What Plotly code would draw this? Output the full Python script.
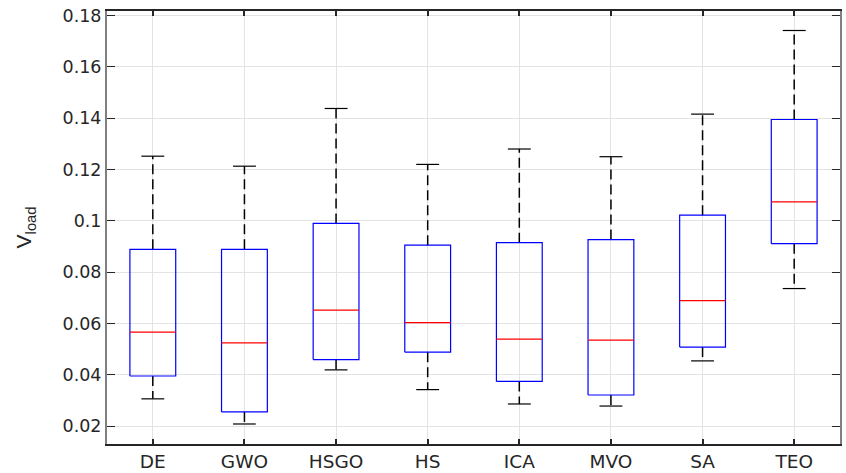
import plotly.graph_objects as go

# Per-algorithm box statistics for V_load
algorithms = ["DE", "GWO", "HSGO", "HS", "ICA", "MVO", "SA", "TEO"]
lower_whisker = [0.0306, 0.0208, 0.0419, 0.0342, 0.0286, 0.0278, 0.0454, 0.0736]
q1 = [0.0395, 0.0255, 0.0459, 0.0488, 0.0374, 0.0321, 0.0508, 0.0911]
median = [0.0566, 0.0524, 0.0652, 0.0603, 0.0539, 0.0535, 0.0689, 0.1074]
q3 = [0.0889, 0.0889, 0.0990, 0.0905, 0.0915, 0.0927, 0.1022, 0.1395]
upper_whisker = [0.1252, 0.1213, 0.1438, 0.1220, 0.1280, 0.1250, 0.1416, 0.1742]

y_ticks = [0.02, 0.04, 0.06, 0.08, 0.10, 0.12, 0.14, 0.16, 0.18]
y_tick_text = ["0.02", "0.04", "0.06", "0.08", "0.1", "0.12", "0.14", "0.16", "0.18"]

BOX_HALF = 0.25
CAP_HALF = 0.125
TEXT = "#262626"
FONT = "DejaVu Sans, Arial, sans-serif"

positions = list(range(1, len(algorithms) + 1))

box_x, box_y = [], []
med_x, med_y = [], []
wh_x, wh_y = [], []
cap_x, cap_y = [], []
for p, lo, a, m, b, hi in zip(positions, lower_whisker, q1, median, q3, upper_whisker):
    box_x += [p - BOX_HALF, p + BOX_HALF, p + BOX_HALF, p - BOX_HALF, p - BOX_HALF, None]
    box_y += [a, a, b, b, a, None]
    med_x += [p - BOX_HALF, p + BOX_HALF, None]
    med_y += [m, m, None]
    wh_x += [p, p, None, p, p, None]
    wh_y += [b, hi, None, a, lo, None]
    cap_x += [p - CAP_HALF, p + CAP_HALF, None, p - CAP_HALF, p + CAP_HALF, None]
    cap_y += [hi, hi, None, lo, lo, None]

fig = go.Figure()
fig.add_trace(go.Scatter(x=wh_x, y=wh_y, mode="lines",
                         line=dict(color="black", width=1.5, dash="10px,5px"),
                         hoverinfo="skip", showlegend=False))
fig.add_trace(go.Scatter(x=cap_x, y=cap_y, mode="lines",
                         line=dict(color="black", width=1.2),
                         hoverinfo="skip", showlegend=False))
fig.add_trace(go.Scatter(x=box_x, y=box_y, mode="lines",
                         line=dict(color="#0000ff", width=1.2),
                         hoverinfo="skip", showlegend=False))
fig.add_trace(go.Scatter(x=med_x, y=med_y, mode="lines",
                         line=dict(color="#ff0000", width=1.2),
                         hoverinfo="skip", showlegend=False))

fig.update_layout(
    width=846, height=473,
    margin=dict(l=107, r=6, t=11, b=29),
    paper_bgcolor="white", plot_bgcolor="white",
    showlegend=False,
    xaxis=dict(
        range=[0.5, 8.5], tickvals=positions, ticktext=algorithms,
        tickfont=dict(family=FONT, size=18.5, color=TEXT),
        ticks="inside", ticklen=5, tickwidth=2, tickcolor=TEXT,
        showgrid=True, gridcolor="#e3e3e3", gridwidth=1,
        showline=True, linecolor=TEXT, linewidth=1.5, mirror="ticks",
        zeroline=False, automargin=False,
    ),
    yaxis=dict(
        range=[0.0130, 0.1818], tickvals=y_ticks, ticktext=y_tick_text,
        tickfont=dict(family=FONT, size=17.5, color=TEXT),
        ticks="inside", ticklen=8, tickwidth=1, tickcolor=TEXT,
        showgrid=True, gridcolor="#e3e3e3", gridwidth=1,
        showline=True, linecolor="#808080", linewidth=2, mirror="ticks",
        zeroline=False, automargin=False,
        title=dict(text="V<sub>load</sub>", standoff=25,
                   font=dict(family="Liberation Sans, Arial, sans-serif", size=21, color=TEXT)),
    ),
)

fig.write_html("out.html")
